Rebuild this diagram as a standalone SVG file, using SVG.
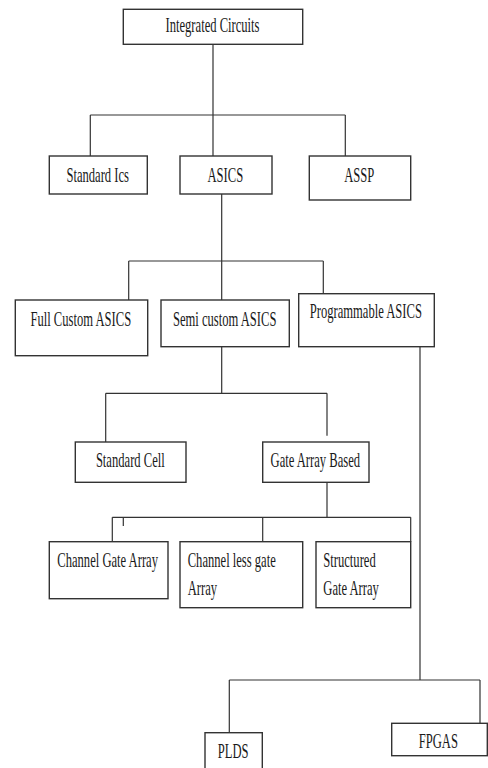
<svg xmlns="http://www.w3.org/2000/svg" width="488" height="768" viewBox="0 0 488 768">
<style>
.box{fill:#fff;stroke:#333;stroke-width:1.4}
.ln{fill:none;stroke:#333;stroke-width:1.2}
text{font-family:"Liberation Serif","Times New Roman",serif;font-size:21px;fill:#1a1a1a}
.m{text-anchor:middle}
</style>
<rect width="488" height="768" fill="#fff"/>
<g id="connectors">
<path class="ln" d="M213 44.3V115M90.3 115H345.3M90.3 115V156M213 115V156M345.3 115V156"/>
<path class="ln" d="M221.7 194V261M128.7 261H323.3M128.7 261V300M221.7 261V300M323.3 261V293.7"/>
<path class="ln" d="M221.7 346.7V393.3M105.7 393.3H327M105.7 393.3V442M327 393.3V435.7"/>
<path class="ln" d="M327 482.3V517.3M112.3 517.3H410.7M112.3 517.3V541.7M262.7 517.3V541.7M410.7 517.3V541.7M123.3 517.3V526"/>
<path class="ln" d="M420 346.7V680M229.3 680H480M229.3 680V732.7M480 680V723.3"/>
</g>
<g id="integrated-circuits"><rect class="box" x="123.3" y="9.3" width="179.4" height="35"/><text class="m" transform="translate(212.5,32.3) scale(0.6,1)">Integrated Circuits</text></g>
<g id="standard-ics"><rect class="box" x="49.3" y="156" width="98" height="38"/><text class="m" transform="translate(97.7,181.7) scale(0.6,1)">Standard Ics</text></g>
<g id="asics"><rect class="box" x="180" y="156" width="92" height="38"/><text class="m" transform="translate(225.3,181.7) scale(0.6,1)">ASICS</text></g>
<g id="assp"><rect class="box" x="309.3" y="156" width="101.4" height="44"/><text class="m" transform="translate(359.3,181.7) scale(0.6,1)">ASSP</text></g>
<g id="full-custom"><rect class="box" x="15.3" y="300" width="132.4" height="55.7"/><text class="m" transform="translate(80.8,325.7) scale(0.6,1)">Full Custom ASICS</text></g>
<g id="semi-custom"><rect class="box" x="161" y="300" width="128.3" height="46.7"/><text class="m" transform="translate(224.7,325.7) scale(0.6,1)">Semi custom ASICS</text></g>
<g id="programmable"><rect class="box" x="298.7" y="293.7" width="135.6" height="53"/><text class="m" transform="translate(365.8,318.3) scale(0.6,1)">Programmable ASICS</text></g>
<g id="standard-cell"><rect class="box" x="75.3" y="442" width="110.7" height="40.3"/><text class="m" transform="translate(130.3,466.7) scale(0.6,1)">Standard Cell</text></g>
<g id="gate-array-based"><rect class="box" x="262.7" y="442" width="106.3" height="40.3"/><text class="m" transform="translate(315.3,466.7) scale(0.6,1)">Gate Array Based</text></g>
<g id="channel-gate-array"><rect class="box" x="49.3" y="541.7" width="118.7" height="57"/><text transform="translate(57.3,566.7) scale(0.6,1)">Channel Gate Array</text></g>
<g id="channel-less"><rect class="box" x="180" y="541.7" width="122.7" height="66"/><text transform="translate(187.7,566.7) scale(0.6,1)">Channel less  gate</text><text transform="translate(187.7,595) scale(0.6,1)">Array</text></g>
<g id="structured"><rect class="box" x="316" y="541.7" width="94.7" height="66"/><text transform="translate(323.3,566.7) scale(0.6,1)">Structured</text><text transform="translate(323.3,595) scale(0.6,1)">Gate Array</text></g>
<g id="plds"><rect class="box" x="205" y="732.7" width="57.3" height="40"/><text class="m" transform="translate(233.2,757.7) scale(0.6,1)">PLDS</text></g>
<g id="fpgas"><rect class="box" x="391.7" y="723.3" width="95.6" height="32.4"/><text class="m" transform="translate(438.3,748.3) scale(0.6,1)">FPGAS</text></g>
</svg>
